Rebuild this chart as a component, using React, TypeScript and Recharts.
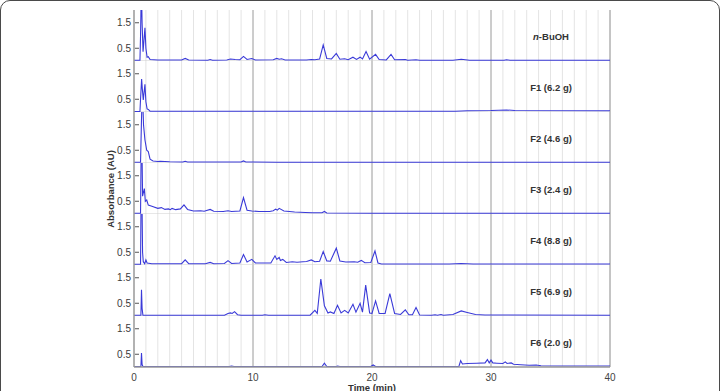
import React from 'react';
import { LineChart, Line, XAxis, YAxis, ReferenceLine } from 'recharts';

type Pt = [number, number];

// Chromatogram traces: [time (min), absorbance (AU)]
const nBuOH: Pt[] = [
  [0, 0.03], [0.5, 0.03], [0.55, 1.0], [0.62, 3.0], [0.68, 1.5], [0.76, 0.36], [0.92, 1.3], [1.0, 0.5],
  [1.1, 0.15], [1.2, 0.17], [1.35, 0.06], [2, 0.04], [4.0, 0.04], [4.3, 0.1], [4.6, 0.04], [6.2, 0.03],
  [6.4, 0.06], [6.6, 0.03], [7.8, 0.04], [8.1, 0.08], [8.5, 0.06], [8.9, 0.05], [9.2, 0.18], [9.5, 0.06],
  [9.9, 0.1], [10.2, 0.04], [11.7, 0.05], [12.0, 0.1], [12.2, 0.07], [12.4, 0.09], [12.7, 0.04], [14.5, 0.04],
  [14.9, 0.06], [15.2, 0.05], [15.6, 0.08], [15.9, 0.63], [16.2, 0.1], [16.6, 0.08], [17.0, 0.3], [17.3, 0.07],
  [17.7, 0.09], [18.0, 0.05], [18.4, 0.15], [18.7, 0.06], [19.0, 0.15], [19.2, 0.08], [19.5, 0.37], [19.8, 0.07],
  [20.3, 0.26], [20.6, 0.06], [21.2, 0.04], [21.6, 0.26], [21.9, 0.05], [22.8, 0.06], [23.0, 0.03], [23.7, 0.05],
  [24, 0.03], [26.8, 0.03], [27.5, 0.07], [28.2, 0.03], [31.1, 0.03], [31.3, 0.05], [31.6, 0.03], [40, 0.03],
];

const f1: Pt[] = [
  [0, 0.02], [0.5, 0.02], [0.56, 0.6], [0.64, 1.29], [0.7, 0.9], [0.78, 0.47], [0.92, 1.09], [1.0, 0.4],
  [1.1, 0.12], [1.2, 0.1], [1.35, 0.03], [27, 0.03], [28, 0.05], [30, 0.06], [31.3, 0.08], [32, 0.06], [40, 0.05],
];

const f2: Pt[] = [
  [0, 0.03], [0.55, 0.03], [0.62, 1.5], [0.7, 3], [0.8, 1.5], [0.92, 0.9], [1.07, 0.5], [1.2, 0.45],
  [1.35, 0.15], [1.6, 0.08], [2.0, 0.06], [2.2, 0.07], [3, 0.05], [4.1, 0.04], [4.3, 0.07], [4.5, 0.04],
  [9.0, 0.04], [9.2, 0.08], [9.4, 0.04], [12, 0.03], [40, 0.03],
];

const f3: Pt[] = [
  [0, 0.03], [0.55, 0.03], [0.6, 2.5], [0.66, 3], [0.72, 0.7], [0.87, 1.0], [0.95, 0.5], [1.07, 0.55],
  [1.2, 0.35], [1.5, 0.3], [2.0, 0.22], [2.3, 0.25], [2.6, 0.18], [2.9, 0.2], [3.05, 0.17], [3.2, 0.22],
  [3.5, 0.17], [3.9, 0.2], [4.2, 0.36], [4.5, 0.18], [5.0, 0.12], [5.6, 0.13], [5.9, 0.11], [6.4, 0.18],
  [6.7, 0.11], [7.5, 0.1], [7.9, 0.13], [8.2, 0.1], [8.9, 0.12], [9.2, 0.64], [9.5, 0.15], [9.9, 0.12],
  [10.5, 0.1], [11.4, 0.1], [11.7, 0.13], [11.9, 0.19], [12.05, 0.15], [12.2, 0.22], [12.6, 0.12], [13.5, 0.08],
  [14.4, 0.06], [15, 0.05], [15.8, 0.05], [16.0, 0.1], [16.2, 0.04], [20, 0.03], [40, 0.03],
];

const f4: Pt[] = [
  [0, 0.03], [0.55, 0.03], [0.6, 3], [0.66, 3], [0.72, 0.5], [0.78, 0.13], [0.9, 0.05], [1.0, 0.2],
  [1.1, 0.08], [1.5, 0.05], [3, 0.05], [4.0, 0.05], [4.3, 0.2], [4.6, 0.05], [6.0, 0.05], [6.4, 0.1],
  [6.7, 0.05], [7.6, 0.06], [7.9, 0.17], [8.2, 0.06], [8.9, 0.08], [9.2, 0.41], [9.5, 0.12], [9.9, 0.22],
  [10.2, 0.08], [11.5, 0.08], [11.85, 0.36], [12.0, 0.22], [12.2, 0.3], [12.3, 0.18], [12.5, 0.22], [12.8, 0.1],
  [13.3, 0.13], [13.7, 0.11], [14.2, 0.13], [14.5, 0.14], [14.9, 0.2], [15.2, 0.13], [15.6, 0.15], [15.9, 0.53],
  [16.2, 0.16], [16.5, 0.15], [17.0, 0.66], [17.3, 0.16], [17.8, 0.12], [18.5, 0.13], [18.8, 0.11], [19.1, 0.18],
  [19.4, 0.09], [19.9, 0.1], [20.25, 0.55], [20.5, 0.08], [20.8, 0.04], [26.5, 0.04], [27.5, 0.06], [28.5, 0.04],
  [40, 0.04],
];

const f5: Pt[] = [
  [0, 0.03], [0.58, 0.03], [0.63, 1.03], [0.68, 0.3], [0.75, 0.03], [7.6, 0.03], [7.9, 0.1], [8.1, 0.12],
  [8.25, 0.1], [8.45, 0.17], [8.7, 0.05], [9, 0.03], [10.8, 0.03], [11.0, 0.05], [11.3, 0.03], [14.8, 0.03],
  [15.2, 0.22], [15.4, 0.1], [15.7, 1.45], [16.0, 0.4], [16.3, 0.12], [16.5, 0.16], [16.8, 0.1], [17.1, 0.42],
  [17.4, 0.12], [17.7, 0.22], [18.0, 0.12], [18.4, 0.46], [18.65, 0.15], [19.0, 0.5], [19.2, 0.15], [19.47, 1.21],
  [19.8, 0.12], [20.0, 0.1], [20.3, 0.59], [20.6, 0.1], [21.1, 0.1], [21.5, 0.88], [21.9, 0.1], [22.4, 0.06],
  [22.8, 0.24], [23.1, 0.05], [23.4, 0.05], [23.7, 0.33], [24.0, 0.04], [25.0, 0.03], [25.3, 0.05], [25.5, 0.03],
  [25.8, 0.06], [26.0, 0.03], [26.8, 0.06], [27.5, 0.2], [28.0, 0.14], [28.7, 0.06], [29.5, 0.04], [40, 0.03],
];

const f6: Pt[] = [
  [0, 0.02], [0.58, 0.02], [0.63, 0.55], [0.68, 0.1], [0.75, 0.02], [8.0, 0.02], [8.2, 0.04], [8.4, 0.02],
  [15.8, 0.02], [16.0, 0.15], [16.2, 0.02], [17.0, 0.02], [17.1, 0.04], [17.3, 0.02], [19.9, 0.02], [20.1, 0.08],
  [20.3, 0.02], [27.3, 0.02], [27.45, 0.25], [27.6, 0.12], [28.0, 0.14], [28.8, 0.15], [29.5, 0.16], [29.7, 0.29],
  [29.85, 0.16], [30.0, 0.27], [30.15, 0.16], [30.5, 0.15], [31.0, 0.14], [31.2, 0.2], [31.35, 0.14], [31.7, 0.16],
  [31.9, 0.11], [32.5, 0.09], [33.2, 0.07], [33.8, 0.08], [34.2, 0.05], [36, 0.04], [40, 0.04],
];

const seriesList: Pt[][] = [nBuOH, f1, f2, f3, f4, f5, f6];
const panelLabels = ['n-BuOH', 'F1 (6.2 g)', 'F2 (4.6 g)', 'F3 (2.4 g)', 'F4 (8.8 g)', 'F5 (6.9 g)', 'F6 (2.0 g)'];
const xTicks = [0, 10, 20, 30, 40];
const yTicks = [0.5, 1.5];
const majorMinutes = [10, 20, 30];
const minorMinutes = [1, 2, 3, 4, 5, 6, 7, 8, 9, 11, 12, 13, 14, 15, 16, 17, 18, 19, 21, 22, 23, 24, 25, 26, 27, 28, 29, 31, 32, 33, 34, 35, 36, 37, 38, 39];

const FONT = '"Liberation Sans", Arial, Helvetica, sans-serif';
const PANEL_TOP = 10;
const PANEL_H = 51;
const X_AXIS_H = 30;

const YTick = (props: any) => {
  const { x, y, payload } = props;
  return (
    <g>
      <text x={x} y={y} dy={3.5} textAnchor="end" fontSize={10} fill="#3a3a3a" fontFamily={FONT}>
        {payload.value}
      </text>
      <line x1={x + 4} x2={x + 8} y1={y} y2={y} stroke="#555" strokeWidth={1} />
    </g>
  );
};

const Panel = ({ pts, last }: { pts: Pt[]; last: boolean }) => {
  const data = pts.map(([t, v]) => ({ t, v }));
  return (
    <LineChart
      width={720}
      height={last ? PANEL_H + X_AXIS_H : PANEL_H}
      data={data}
      margin={{ top: 0, right: 110, bottom: 0, left: 0 }}
    >
      <XAxis
        dataKey="t"
        type="number"
        domain={[0, 40]}
        ticks={xTicks}
        hide={!last}
        allowDataOverflow
        height={X_AXIS_H}
        tickLine={false}
        tickSize={0}
        tickMargin={7}
        axisLine={{ stroke: '#999', strokeWidth: 1.5 }}
        tick={{ fontSize: 10, fill: '#444', fontFamily: FONT }}
      />
      <YAxis
        type="number"
        domain={[0, 2]}
        ticks={yTicks}
        interval={0}
        allowDataOverflow
        width={134}
        tickSize={0}
        tickMargin={3}
        tickLine={false}
        axisLine={{ stroke: '#999', strokeWidth: 1.5 }}
        tick={<YTick />}
      />
      {minorMinutes.map((m) => (
        <ReferenceLine key={'mi' + m} x={m} stroke="#e4e4e4" strokeWidth={1} />
      ))}
      {majorMinutes.map((m) => (
        <ReferenceLine key={'ma' + m} x={m} stroke="#9a9a9a" strokeWidth={1} />
      ))}
      <ReferenceLine x={40} stroke="#8a8a8a" strokeWidth={1} />
      {!last && <ReferenceLine y={0} stroke="#cfcfcf" strokeWidth={1} />}
      <Line
        dataKey="v"
        type="linear"
        stroke="#3a3ad8"
        strokeWidth={1.1}
        dot={false}
        isAnimationActive={false}
      />
    </LineChart>
  );
};

export default function App() {
  return (
    <div
      style={{
        position: 'absolute',
        left: 0,
        top: 0,
        width: 720,
        height: 391,
        overflow: 'hidden',
        background: '#fff',
        fontFamily: FONT,
      }}
    >
      <div
        style={{
          position: 'absolute',
          left: 0,
          top: 0,
          width: 718,
          height: 440,
          border: '1px solid #4a4a4a',
          borderRadius: 10,
        }}
      />
      {seriesList.map((pts, i) => (
        <div key={i} style={{ position: 'absolute', left: 0, top: PANEL_TOP + i * PANEL_H }}>
          <Panel pts={pts} last={i === seriesList.length - 1} />
        </div>
      ))}
      {panelLabels.map((lab, i) => (
        <div
          key={'l' + i}
          style={{
            position: 'absolute',
            left: 491,
            width: 120,
            top: PANEL_TOP + i * PANEL_H + 21,
            textAlign: 'center',
            fontSize: 9.5,
            fontWeight: 'bold',
            color: '#333',
            lineHeight: '12px',
          }}
        >
          {i === 0 ? (
            <span>
              <i>n</i>-BuOH
            </span>
          ) : (
            lab
          )}
        </div>
      ))}
      <div
        style={{
          position: 'absolute',
          left: 111 - 60,
          top: 189 - 6,
          width: 120,
          textAlign: 'center',
          fontSize: 9.5,
          fontWeight: 'bold',
          color: '#333',
          lineHeight: '12px',
          transform: 'rotate(-90deg)',
        }}
      >
        Absorbance (AU)
      </div>
      <div
        style={{
          position: 'absolute',
          left: 372 - 60,
          top: 382,
          width: 120,
          textAlign: 'center',
          fontSize: 9.5,
          fontWeight: 'bold',
          color: '#333',
          lineHeight: '12px',
        }}
      >
        Time (min)
      </div>
    </div>
  );
}
